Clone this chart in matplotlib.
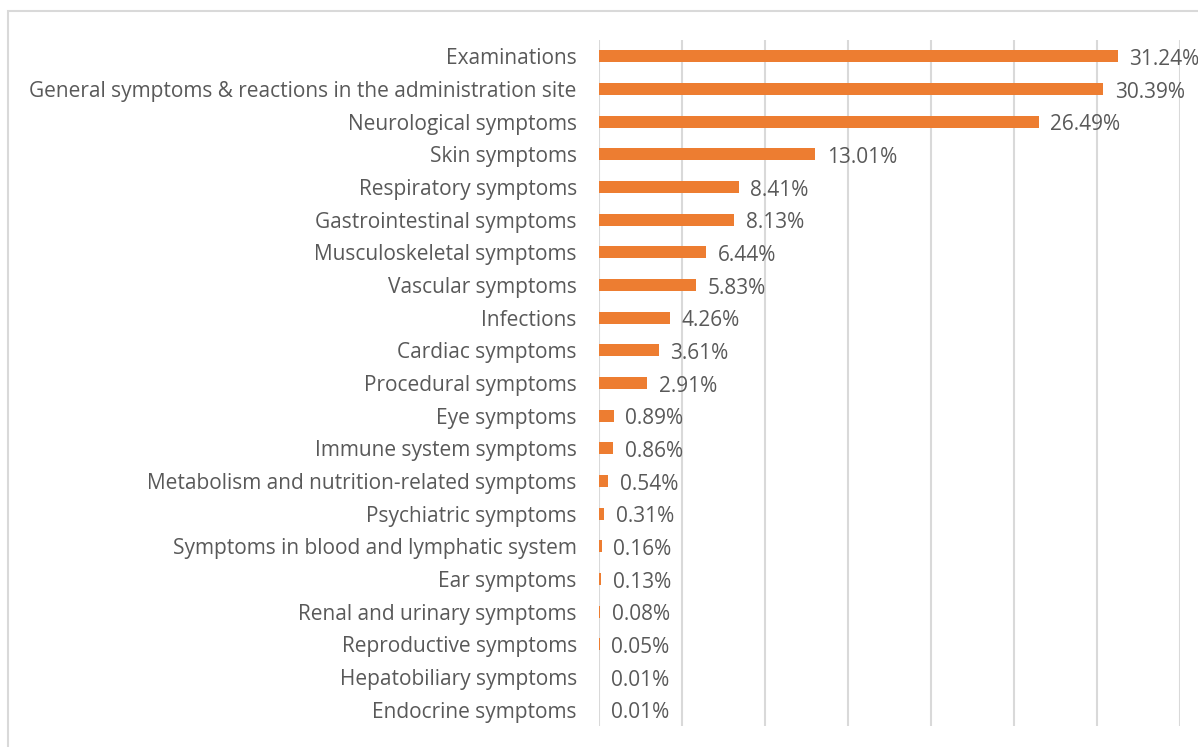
import matplotlib
matplotlib.use("Agg")
import matplotlib.pyplot as plt
from matplotlib.patches import Rectangle

categories = [
    "Examinations",
    "General symptoms & reactions in the administration site",
    "Neurological symptoms",
    "Skin symptoms",
    "Respiratory symptoms",
    "Gastrointestinal symptoms",
    "Musculoskeletal symptoms",
    "Vascular symptoms",
    "Infections",
    "Cardiac symptoms",
    "Procedural symptoms",
    "Eye symptoms",
    "Immune system symptoms",
    "Metabolism and nutrition-related symptoms",
    "Psychiatric symptoms",
    "Symptoms in blood and lymphatic system",
    "Ear symptoms",
    "Renal and urinary symptoms",
    "Reproductive symptoms",
    "Hepatobiliary symptoms",
    "Endocrine symptoms",
]
percent = [31.24, 30.39, 26.49, 13.01, 8.41, 8.13, 6.44, 5.83, 4.26, 3.61,
           2.91, 0.89, 0.86, 0.54, 0.31, 0.16, 0.13, 0.08, 0.05, 0.01, 0.01]
x_ticks = [0, 5, 10, 15, 20, 25, 30, 35]

W, H = 1198, 747
text_color = "#595959"
bar_color = "#ED7D31"

plt.rcParams["font.family"] = ["Open Sans", "DejaVu Sans"]

fig = plt.figure(figsize=(W / 100, H / 100), dpi=100)
# outer chart border, cut off at right and bottom like the source
fig.patches.append(Rectangle((8 / W, -0.05), 1.1, 1 - 11 / H + 0.05,
                             transform=fig.transFigure, fill=False,
                             edgecolor="#D9D9D9", linewidth=1.5))

ax = fig.add_axes([599 / W, 1 - 726 / H, (1180 - 599) / W, (726 - 40) / H])
y = list(range(len(categories)))
ax.barh(y, percent, height=0.36, color=bar_color)
for yi, v in zip(y, percent):
    ax.text(v + 0.7, yi + 0.1, f"{v:.2f}%", va="center", ha="left",
            fontsize=15, color=text_color)

ax.set_xlim(0, 35)
ax.set_ylim(len(categories) - 0.5, -0.5)
ax.set_xticks(x_ticks)
ax.xaxis.grid(True, color="#D9D9D9", linewidth=1.5)
ax.set_axisbelow(True)
ax.tick_params(axis="x", length=0, labelbottom=False)
ax.tick_params(axis="y", length=0, pad=16)
ax.set_yticks(y)
ax.set_yticklabels(categories, fontsize=15, color=text_color)
for s in ax.spines.values():
    s.set_visible(False)

fig.savefig("out.png", dpi=100)
